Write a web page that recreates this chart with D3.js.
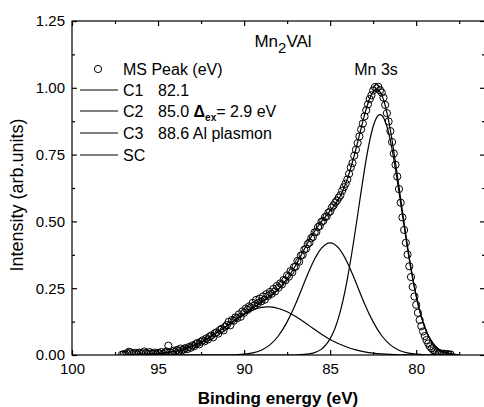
<!DOCTYPE html>
<html>
<head>
<meta charset="utf-8">
<script src="https://cdn.jsdelivr.net/npm/d3@7"></script>
<style>
body { margin: 0; background: #fff; }
text { font-family: Arial, "Liberation Sans", sans-serif; fill: #000; }
.axis path { display: none; }
.axis line { stroke: #000; stroke-width: 1.2px; }
</style>
</head>
<body>
<div id="chart"></div>
<script>
var width = 484,
    height = 407;

// fit components, every 0.5 eV
var energy = [97.0, 96.5, 96.0, 95.5, 95.0, 94.5, 94.0, 93.5, 93.0, 92.5,
              92.0, 91.5, 91.0, 90.5, 90.0, 89.5, 89.0, 88.5, 88.0, 87.5,
              87.0, 86.5, 86.0, 85.5, 85.0, 84.5, 84.0, 83.5, 83.0, 82.5,
              82.0, 81.5, 81.0, 80.5, 80.0, 79.5, 79.0, 78.5, 78.0, 77.5];
var c1 = [0, 0, 0, 0, 0, 0, 0, 0, 0, 0,
          0, 0, 0, 0, 0, 0, 0, 0, 0, 0,
          0.000, 0.002, 0.007, 0.022, 0.061, 0.142, 0.284, 0.481, 0.695, 0.855,
          0.897, 0.802, 0.611, 0.397, 0.220, 0.103, 0.042, 0.014, 0.004, 0.001];
var c2 = [0, 0, 0, 0, 0, 0, 0, 0, 0, 0,
          0, 0, 0, 0.001, 0.003, 0.008, 0.018, 0.038, 0.072, 0.124,
          0.192, 0.271, 0.346, 0.400, 0.420, 0.400, 0.346, 0.271, 0.192, 0.124,
          0.072, 0.038, 0.018, 0.008, 0.003, 0.001, 0, 0, 0, 0];
var c3 = [0.000, 0.001, 0.002, 0.003, 0.005, 0.009, 0.014, 0.022, 0.034, 0.048,
          0.066, 0.087, 0.109, 0.132, 0.152, 0.168, 0.178, 0.180, 0.174, 0.162,
          0.144, 0.123, 0.100, 0.078, 0.058, 0.042, 0.029, 0.019, 0.012, 0.007,
          0.004, 0.002, 0.001, 0.001, 0, 0, 0, 0, 0, 0];
var sc = [0.000, 0.001, 0.002, 0.003, 0.005, 0.009, 0.014, 0.022, 0.034, 0.048,
          0.066, 0.087, 0.109, 0.133, 0.155, 0.176, 0.196, 0.218, 0.246, 0.286,
          0.336, 0.396, 0.453, 0.500, 0.539, 0.584, 0.659, 0.771, 0.899, 0.986,
          0.973, 0.842, 0.630, 0.406, 0.223, 0.104, 0.042, 0.014, 0.004, 0.001];

// measured points (circles)
var msEnergy = [97.1, 97.0, 96.9, 96.8, 96.7, 96.6, 96.5, 96.4, 96.3, 96.2, 96.1, 96.0,
  95.9, 95.8, 95.7, 95.6, 95.5, 95.4, 95.3, 95.2, 95.1, 95.0,
  94.9, 94.8, 94.7, 94.6, 94.5, 94.4, 94.3, 94.2, 94.1, 94.0,
  93.9, 93.8, 93.7, 93.6, 93.5, 93.4, 93.3, 93.2, 93.1, 93.0,
  92.9, 92.8, 92.7, 92.6, 92.5, 92.4, 92.3, 92.2, 92.1, 92.0,
  91.9, 91.8, 91.7, 91.6, 91.5, 91.4, 91.3, 91.2, 91.1, 91.0,
  90.9, 90.8, 90.7, 90.6, 90.5, 90.4, 90.3, 90.2, 90.1, 90.0,
  89.9, 89.8, 89.7, 89.6, 89.5, 89.4, 89.3, 89.2, 89.1, 89.0,
  88.9, 88.8, 88.7, 88.6, 88.5, 88.4, 88.3, 88.2, 88.1, 88.0,
  87.9, 87.8, 87.7, 87.6, 87.5, 87.4, 87.3, 87.2, 87.1, 87.0,
  86.9, 86.8, 86.7, 86.6, 86.5, 86.4, 86.3, 86.2, 86.1, 86.0,
  85.9, 85.8, 85.7, 85.6, 85.5, 85.4, 85.3, 85.2, 85.1, 85.0,
  84.9, 84.8, 84.7, 84.6, 84.5, 84.4, 84.3, 84.2, 84.1, 84.0,
  83.9, 83.8, 83.7, 83.6, 83.5, 83.4, 83.3, 83.2, 83.1, 83.0,
  82.9, 82.8, 82.7, 82.6, 82.5, 82.4, 82.3, 82.2, 82.1, 82.0,
  81.9, 81.8, 81.7, 81.6, 81.5, 81.4, 81.3, 81.2, 81.1, 81.0,
  80.9, 80.8, 80.7, 80.6, 80.5, 80.4, 80.3, 80.2, 80.1, 80.0,
  79.9, 79.8, 79.7, 79.6, 79.5, 79.4, 79.3, 79.2, 79.1, 79.0,
  78.9, 78.8, 78.7, 78.6, 78.5, 78.4, 78.3, 78.2, 78.1, 78.0];
var msIntensity = [0.001, 0.003, 0.002, 0.006, 0.012, 0.010, 0.004, 0.006, 0.008, 0.003, 0.009, 0.007,
  0.005, 0.013, 0.008, 0.004, 0.011, 0.006, 0.005, 0.009, 0.003, 0.008,
  0.006, 0.011, 0.004, 0.009, 0.013, 0.035, 0.010, 0.008, 0.016, 0.012,
  0.019, 0.015, 0.024, 0.018, 0.021, 0.026, 0.022, 0.030, 0.027, 0.036,
  0.033, 0.041, 0.045, 0.040, 0.050, 0.055, 0.051, 0.062, 0.058, 0.069,
  0.073, 0.066, 0.081, 0.085, 0.080, 0.094, 0.098, 0.092, 0.106, 0.112,
  0.124, 0.111, 0.131, 0.128, 0.141, 0.138, 0.152, 0.143, 0.163, 0.158,
  0.174, 0.169, 0.182, 0.178, 0.195, 0.186, 0.206, 0.194, 0.211, 0.201,
  0.219, 0.207, 0.228, 0.221, 0.236, 0.229, 0.247, 0.238, 0.258, 0.252,
  0.268, 0.264, 0.281, 0.279, 0.298, 0.293, 0.314, 0.310, 0.329, 0.331,
  0.352, 0.349, 0.372, 0.375, 0.394, 0.398, 0.415, 0.421, 0.437, 0.442,
  0.459, 0.461, 0.479, 0.483, 0.499, 0.502, 0.516, 0.519, 0.533, 0.537,
  0.552, 0.560, 0.571, 0.578, 0.589, 0.598, 0.615, 0.628, 0.641, 0.657,
  0.678, 0.702, 0.718, 0.746, 0.768, 0.793, 0.818, 0.844, 0.866, 0.893,
  0.916, 0.938, 0.958, 0.972, 0.990, 1.003, 0.998, 1.004, 0.991, 0.982,
  0.963, 0.936, 0.905, 0.874, 0.838, 0.797, 0.754, 0.712, 0.668, 0.621,
  0.570, 0.515, 0.468, 0.420, 0.376, 0.332, 0.292, 0.255, 0.219, 0.188,
  0.158, 0.131, 0.108, 0.088, 0.071, 0.056, 0.043, 0.032, 0.025, 0.018,
  0.013, 0.010, 0.007, 0.006, 0.004, 0.005, 0.003, 0.003, 0.002, 0.002];

var xMajor = [100, 95, 90, 85, 80],
    xMinor = [97.5, 92.5, 87.5, 82.5, 77.5],
    yMajor = [0, 0.25, 0.5, 0.75, 1.0, 1.25],
    yMinor = [0.125, 0.375, 0.625, 0.875, 1.125];

var plot = {left: 72, top: 21, right: 485, bottom: 355};

var x = d3.scaleLinear().domain([100, 76]).range([plot.left, plot.right]);
var y = d3.scaleLinear().domain([0, 1.25]).range([plot.bottom, plot.top]);

var svg = d3.select("#chart").append("svg")
    .attr("width", width)
    .attr("height", height);

svg.append("clipPath").attr("id", "clip")
  .append("rect")
    .attr("x", plot.left).attr("y", plot.top)
    .attr("width", plot.right - plot.left)
    .attr("height", plot.bottom - plot.top);

// axes, ticks pointing inside
function tickAxis(axis, scale, vals, size, g) {
  g.attr("class", "axis").call(axis(scale).tickValues(vals).tickSizeInner(-size).tickSizeOuter(0).tickFormat(""));
}
tickAxis(d3.axisBottom, x, xMinor, 3, svg.append("g").attr("transform", "translate(0," + plot.bottom + ")"));
tickAxis(d3.axisTop, x, xMajor, 5, svg.append("g").attr("transform", "translate(0," + plot.top + ")"));
tickAxis(d3.axisTop, x, xMinor, 3, svg.append("g").attr("transform", "translate(0," + plot.top + ")"));
tickAxis(d3.axisLeft, y, yMinor, 3, svg.append("g").attr("transform", "translate(" + plot.left + ",0)"));
tickAxis(d3.axisRight, y, yMajor, 5, svg.append("g").attr("transform", "translate(" + plot.right + ",0)"));
tickAxis(d3.axisRight, y, yMinor, 3, svg.append("g").attr("transform", "translate(" + plot.right + ",0)"));

svg.append("g")
    .attr("class", "axis")
    .attr("transform", "translate(0," + plot.bottom + ")")
    .call(d3.axisBottom(x).tickValues(xMajor).tickSizeInner(-5).tickSizeOuter(0).tickPadding(8).tickFormat(d3.format("d")))
    .selectAll("text").style("font-size", "15px");

svg.append("g")
    .attr("class", "axis")
    .attr("transform", "translate(" + plot.left + ",0)")
    .call(d3.axisLeft(y).tickValues(yMajor).tickSizeInner(-5).tickSizeOuter(0).tickPadding(7).tickFormat(d3.format(".2f")))
    .selectAll("text").style("font-size", "15px");

svg.append("rect")
    .attr("x", plot.left).attr("y", plot.top)
    .attr("width", plot.right - plot.left)
    .attr("height", plot.bottom - plot.top)
    .style("fill", "none").style("stroke", "#000").style("stroke-width", 1.2);

// curves
var line = d3.line()
    .x(function(d) { return x(d[0]); })
    .y(function(d) { return y(d[1]); })
    .curve(d3.curveNatural);

var curves = svg.append("g").attr("clip-path", "url(#clip)");
[c1, c2, c3, sc].forEach(function(vals) {
  curves.append("path")
      .datum(energy.map(function(e, i) { return [e, vals[i]]; }))
      .attr("d", line)
      .style("fill", "none").style("stroke", "#000").style("stroke-width", 1.2);
});

curves.selectAll("circle")
    .data(msEnergy.map(function(e, i) { return [e, msIntensity[i]]; }))
  .enter().append("circle")
    .attr("cx", function(d) { return x(d[0]); })
    .attr("cy", function(d) { return y(d[1]); })
    .attr("r", 3.6)
    .style("fill", "none").style("stroke", "#000").style("stroke-width", 1);

// legend
var legendRows = [69, 90, 111, 133, 155];
var legend = svg.append("g").style("font-size", "16px");
legend.append("circle").attr("cx", 98).attr("cy", legendRows[0]).attr("r", 3.6)
    .style("fill", "none").style("stroke", "#000");
legendRows.slice(1).forEach(function(ry) {
  legend.append("line").attr("x1", 80).attr("x2", 118).attr("y1", ry).attr("y2", ry)
      .style("stroke", "#000").style("stroke-width", 1.2);
});
legend.append("text").attr("x", 123).attr("y", legendRows[0] + 6).text("MS Peak (eV)");
legend.append("text").attr("x", 123).attr("y", legendRows[1] + 6).text("C1");
legend.append("text").attr("x", 158).attr("y", legendRows[1] + 6).text("82.1");
legend.append("text").attr("x", 123).attr("y", legendRows[2] + 6).text("C2");
var t2 = legend.append("text").attr("x", 158).attr("y", legendRows[2] + 6);
t2.append("tspan").text("85.0 ");
t2.append("tspan").style("font-weight", "bold").text("\u0394");
t2.append("tspan").style("font-weight", "bold").style("font-size", "10px").attr("dy", 4).text("ex");
t2.append("tspan").attr("dy", -4).text("= 2.9 eV");
legend.append("text").attr("x", 123).attr("y", legendRows[3] + 6).text("C3");
legend.append("text").attr("x", 158).attr("y", legendRows[3] + 6).text("88.6 Al plasmon");
legend.append("text").attr("x", 123).attr("y", legendRows[4] + 6).text("SC");

// labels
var title = svg.append("text").attr("x", 283).attr("y", 47)
    .attr("text-anchor", "middle").style("font-size", "17px");
title.append("tspan").text("Mn");
title.append("tspan").attr("dy", 6).style("font-size", "15px").text("2");
title.append("tspan").attr("dy", -6).text("VAl");

svg.append("text").attr("x", 376).attr("y", 75)
    .attr("text-anchor", "middle").style("font-size", "16px").text("Mn 3s");

svg.append("text").attr("x", 278).attr("y", 404)
    .attr("text-anchor", "middle").style("font-size", "17px").style("font-weight", "bold")
    .text("Binding energy (eV)");

svg.append("text")
    .attr("transform", "translate(23,195) rotate(-90)")
    .attr("text-anchor", "middle").style("font-size", "18px")
    .text("Intensity (arb.units)");
</script>
</body>
</html>
